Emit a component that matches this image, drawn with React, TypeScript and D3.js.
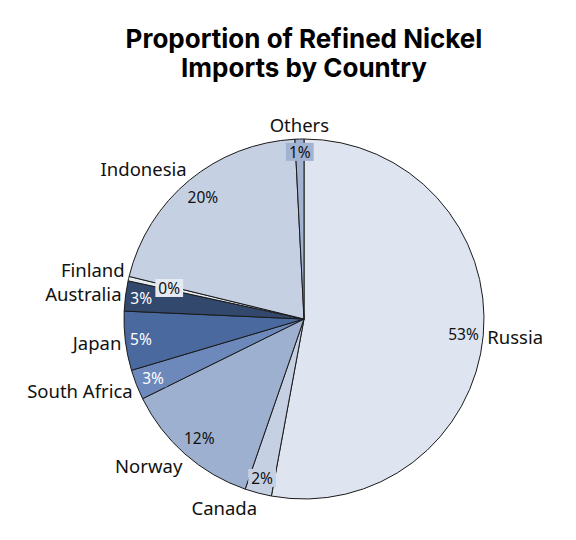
import React from 'react';
import * as d3 from 'd3';

const countries = ['Russia', 'Canada', 'Norway', 'South Africa', 'Japan', 'Australia', 'Finland', 'Indonesia', 'Others'];
const shares = [52.9, 2.4, 12.4, 2.7, 5.3, 2.7, 0.4, 20.4, 0.8];
const sliceColors = ['#dfe5f0', '#c6d0e3', '#9eb0cf', '#6d89bb', '#4a699f', '#33486d', '#e6eaf2', '#c5d0e3', '#a2b3d1'];
const valueTextColors = ['#111', '#111', '#111', '#fff', '#fff', '#fff', '#111', '#111', '#111'];
const titleLines = ['Proportion of Refined Nickel', 'Imports by Country'];

const W = 576;
const H = 540;
const CX = 304;
const CY = 319;
const R = 180;
const NAME_SIZE = 18.5;
const VAL_SIZE = 15.5;
const NAME_FONT = `${NAME_SIZE}px "Noto Sans"`;
const VAL_FONT = `${VAL_SIZE}px "Noto Sans"`;

function measure(text: string, font: string): number {
  const c = document.createElement('canvas');
  const ctx = c.getContext('2d')!;
  ctx.font = font;
  return ctx.measureText(text).width;
}

type Box = { x: number; y: number; w: number; h: number };
const overlaps = (a: Box, b: Box) =>
  Math.abs(a.x - b.x) * 2 < a.w + b.w && Math.abs(a.y - b.y) * 2 < a.h + b.h;

export default function App() {
  const pie = d3.pie<number>().sort(null).startAngle(0).endAngle(2 * Math.PI).value((d) => d);
  const arcs = pie(shares);
  const arcGen = d3.arc<d3.PieArcDatum<number>>().innerRadius(0).outerRadius(R);
  const fmt = (v: number) => `${Math.round(v)}%`;

  const placed: Box[] = [];
  const valueLabels = arcs.map((a, i) => {
    const text = fmt(shares[i]);
    const mid = (a.startAngle + a.endAngle) / 2;
    const s = Math.sin(mid);
    const c = Math.cos(mid);
    const w = measure(text, VAL_FONT) + 6;
    const h = 18;
    const extent = (w / 2) * Math.abs(s) + 12 * Math.abs(c);
    let r = R - extent - 0.5;
    let box: Box = { x: CX + r * s, y: CY - r * c, w, h };
    let guard = 0;
    while (placed.some((b) => overlaps(b, box)) && guard < 150) {
      r -= 1;
      box = { x: CX + r * s, y: CY - r * c, w, h };
      guard++;
    }
    placed.push(box);
    return { text, box, i };
  });

  const namePlaced: Box[] = [];
  const nameLabels = arcs.map((a, i) => {
    const mid = (a.startAngle + a.endAngle) / 2;
    const s = Math.sin(mid);
    const c = Math.cos(mid);
    const px = CX + (R + 4) * s;
    const py = CY - (R + 4) * c;
    const anchor = s > 0.1 ? 'start' : s < -0.1 ? 'end' : 'middle';
    const w = measure(countries[i], NAME_FONT);
    const bx = anchor === 'start' ? px + w / 2 : anchor === 'end' ? px - w / 2 : px;
    let y = py - c * 9 * 1.2;
    const h = 24;
    let box: Box = { x: bx, y, w, h };
    let guard = 0;
    const dir = c > 0 ? -1 : 1;
    while (namePlaced.some((b) => overlaps(b, box)) && guard < 60) {
      y += dir;
      box = { x: bx, y, w, h };
      guard++;
    }
    namePlaced.push(box);
    return { text: countries[i], x: px, y, anchor };
  });

  return (
    <svg width={W} height={H} style={{ display: 'block', position: 'absolute', left: 0, top: 0 }}>
      <rect width={W} height={H} fill="#fff" />
      <text
        x={CX}
        textAnchor="middle"
        fontFamily="Inter, Roboto, sans-serif"
        fontWeight={700}
        fontSize={26}
        fill="#000"
      >
        {titleLines.map((t, k) => (
          <tspan key={k} x={CX} y={48 + k * 29}>
            {t}
          </tspan>
        ))}
      </text>
      <g transform={`translate(${CX},${CY})`}>
        {arcs.map((a, i) => (
          <path key={i} d={arcGen(a) || ''} fill={sliceColors[i]} stroke="#1a1a1a" strokeWidth={1} strokeLinejoin="round" />
        ))}
      </g>
      {valueLabels.map(({ text, box, i }) => (
        <g key={`v${i}`}>
          <rect x={box.x - box.w / 2} y={box.y - box.h / 2} width={box.w} height={box.h} fill={sliceColors[i]} />
          <text
            x={box.x}
            y={box.y}
            textAnchor="middle"
            dominantBaseline="central"
            fontFamily='"Noto Sans", sans-serif'
            fontSize={VAL_SIZE}
            fill={valueTextColors[i]}
          >
            {text}
          </text>
        </g>
      ))}
      {nameLabels.map((l, i) => (
        <text
          key={`n${i}`}
          x={l.x}
          y={l.y}
          textAnchor={l.anchor}
          dominantBaseline="central"
          fontFamily='"Noto Sans", sans-serif'
          fontSize={NAME_SIZE}
          fill="#111"
        >
          {l.text}
        </text>
      ))}
    </svg>
  );
}
